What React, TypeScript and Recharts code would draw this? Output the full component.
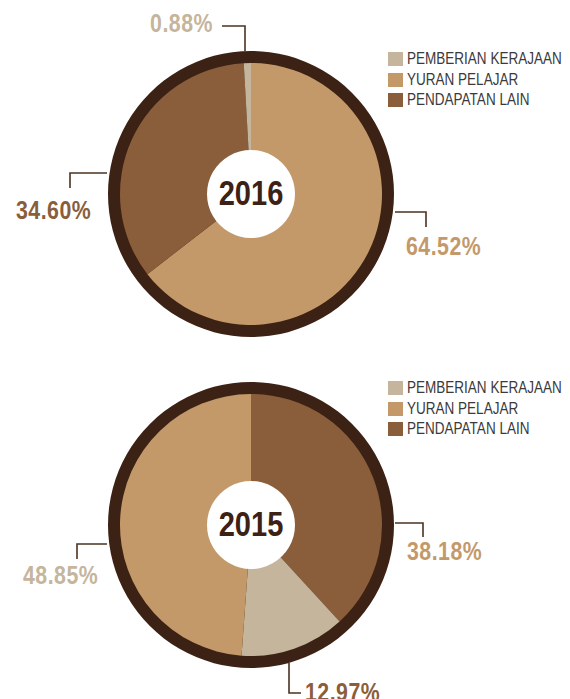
import React from 'react';
import { PieChart, Pie, Cell, Legend } from 'recharts';

// ---- data ----
const categories = ['PEMBERIAN KERAJAAN', 'YURAN PELAJAR', 'PENDAPATAN LAIN'];
const values2016 = [0.88, 64.52, 34.6];
const values2015 = [12.97, 48.85, 38.18];
const percentLabels2016 = ['0.88%', '64.52%', '34.60%'];
const percentLabels2015 = ['12.97%', '48.85%', '38.18%'];
// clockwise slice order from 12 o'clock (indices into categories)
const order2016 = [1, 2, 0];
const order2015 = [2, 0, 1];

// ---- style ----
const COLORS = ['#C5B59C', '#C4996A', '#8A5E3B'];
const RING = '#3C2214';
const LEADER = '#4B3322';
const FONT = "'Liberation Sans', Arial, sans-serif";
const MARGIN = { top: 0, right: 0, bottom: 0, left: 0 };
const CX = 251;

type Leader = { pts: [number, number][]; tx: number; ty: number; anchor: 'start' | 'end'; color: string };

// leader layouts keyed by category index (offsets relative to pie centre)
const leaders2016: Record<number, Leader> = {
  0: { pts: [[-6, -143], [-6, -168], [-29, -168]], tx: -38, ty: -162, anchor: 'end', color: COLORS[0] },
  2: { pts: [[-144, -21], [-181, -21], [-181, -6]], tx: -235, ty: 25, anchor: 'start', color: COLORS[2] },
  1: { pts: [[144, 18], [175, 18], [175, 33]], tx: 155, ty: 61, anchor: 'start', color: COLORS[1] },
};
const leaders2015: Record<number, Leader> = {
  2: { pts: [[144, -2], [172, -2], [172, 12]], tx: 156, ty: 35, anchor: 'start', color: COLORS[1] },
  1: { pts: [[-144, 19], [-174, 19], [-174, 34]], tx: -228, ty: 59, anchor: 'start', color: COLORS[0] },
  0: { pts: [[38, 138], [38, 168], [50, 168]], tx: 54, ty: 176, anchor: 'start', color: COLORS[2] },
};

const LegendBox = () => (
  <div style={{ fontFamily: FONT }}>
    {categories.map((c, i) => (
      <div key={c} style={{ display: 'flex', alignItems: 'center', height: 20.5, whiteSpace: 'nowrap' }}>
        <div style={{ width: 15, height: 14, background: COLORS[i], marginRight: 4, flex: 'none' }} />
        <span style={{ display: 'inline-block', fontSize: 16, color: '#3a3a3a', lineHeight: '16px',
          transform: 'scaleX(0.845)', transformOrigin: 'left center' }}>{c}</span>
      </div>
    ))}
  </div>
);

function YearPie(props: {
  year: string; values: number[]; labels: string[]; order: number[];
  leaders: Record<number, Leader>; height: number; cy: number; legendTop: number;
}) {
  const { year, values, labels, order, leaders, height, cy, legendTop } = props;
  const data = order.map((i) => ({ name: categories[i], value: values[i], cat: i }));

  const renderLabel = (p: any) => {
    const cat = data[p.index].cat;
    const l = leaders[cat];
    const x0 = p.cx, y0 = p.cy;
    const pts = l.pts.map(([dx, dy]) => `${x0 + dx},${y0 + dy}`).join(' ');
    return (
      <g key={`lab-${p.index}`}>
        <polyline points={pts} fill="none" stroke={LEADER} strokeWidth={1.6} />
        <text transform={`translate(${x0 + l.tx},${y0 + l.ty}) scale(0.82,1)`} textAnchor={l.anchor} fill={l.color}
          style={{ fontFamily: FONT, fontWeight: 700, fontSize: 26, letterSpacing: 0.6 }}>
          {labels[cat]}
        </text>
      </g>
    );
  };

  const renderYear = (p: any) => (
    <text key="year" transform={`translate(${p.cx},${p.cy + 11}) scale(0.83,1)`} textAnchor="middle" fill={RING}
      style={{ fontFamily: FONT, fontWeight: 700, fontSize: 35 }}>
      {year}
    </text>
  );

  return (
    <PieChart width={570} height={height} margin={MARGIN} style={{ display: 'block' }}>
      <Legend content={() => <LegendBox />}
        wrapperStyle={{ position: 'absolute', left: 388, top: legendTop, width: 182, bottom: 'auto', right: 'auto' }} />
      <Pie data={[{ name: 'ring', value: 1 }]} dataKey="value" cx={CX} cy={cy} outerRadius={143} innerRadius={0}
        fill={RING} stroke="none" isAnimationActive={false} legendType="none" />
      <Pie data={data} dataKey="value" cx={CX} cy={cy} outerRadius={131} innerRadius={0}
        startAngle={90} endAngle={-270} stroke="none" isAnimationActive={false}
        labelLine={false} label={renderLabel} legendType="none">
        {data.map((d) => <Cell key={d.name} fill={COLORS[d.cat]} />)}
      </Pie>
      <Pie data={[{ name: 'hole', value: 1 }]} dataKey="value" cx={CX} cy={cy} outerRadius={44} innerRadius={0}
        fill="#ffffff" stroke="none" isAnimationActive={false} legendType="none"
        labelLine={false} label={renderYear} />
    </PieChart>
  );
}

export default function App() {
  return (
    <div style={{ position: 'absolute', left: 0, top: 0, width: 570, height: 699, overflow: 'hidden', background: '#fff' }}>
      <YearPie year="2016" values={values2016} labels={percentLabels2016} order={order2016}
        leaders={leaders2016} height={350} cy={194} legendTop={49} />
      <YearPie year="2015" values={values2015} labels={percentLabels2015} order={order2015}
        leaders={leaders2015} height={349} cy={175} legendTop={28} />
    </div>
  );
}
